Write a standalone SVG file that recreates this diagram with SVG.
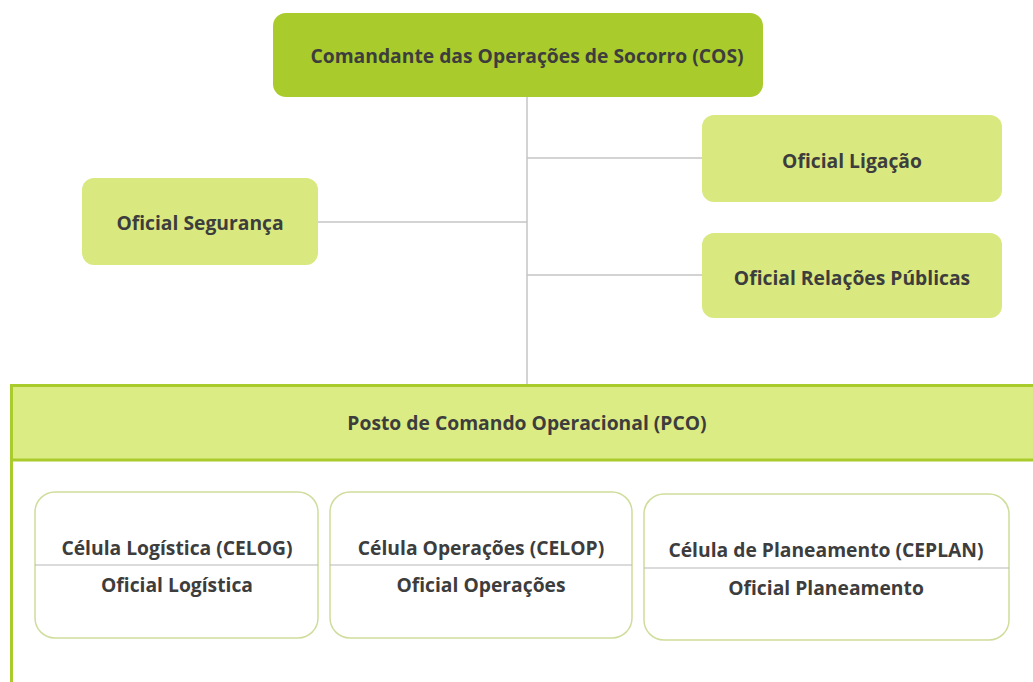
<svg xmlns="http://www.w3.org/2000/svg" width="1033" height="682" viewBox="0 0 1033 682">
<style>
text{font-family:"Open Sans","Liberation Sans",sans-serif;font-weight:bold;fill:#3d3d3d;text-anchor:middle;dominant-baseline:central;font-size:19.3px}
.lite{fill:#d9e97f}
.conn{stroke:#c4c4c4;stroke-width:1.5;fill:none}
.cell{fill:#fff;stroke:#cfdd9c;stroke-width:1.5}
.div{stroke:#b8b8b8;stroke-width:1.2}
</style>
<rect width="1033" height="682" fill="#fff"/>
<g id="connectors">
<line class="conn" x1="527" y1="97" x2="527" y2="385"/>
<line class="conn" x1="318" y1="222" x2="527" y2="222"/>
<line class="conn" x1="527" y1="158" x2="702" y2="158"/>
<line class="conn" x1="527" y1="275" x2="702" y2="275"/>
</g>
<g id="cos">
<rect x="273" y="13" width="490" height="84" rx="13" fill="#a9cb2c"/>
<text x="527" y="55">Comandante das Operações de Socorro (COS)</text>
</g>
<g id="seguranca">
<rect class="lite" x="82" y="178" width="236" height="87" rx="12"/>
<text x="200" y="222">Oficial Segurança</text>
</g>
<g id="ligacao">
<rect class="lite" x="702" y="115" width="300" height="87" rx="12"/>
<text x="852" y="160">Oficial Ligação</text>
</g>
<g id="relacoes">
<rect class="lite" x="702" y="233" width="300" height="85" rx="12"/>
<text x="852" y="277">Oficial Relações Públicas</text>
</g>
<g id="pco">
<rect x="11.5" y="385.5" width="1030" height="310" fill="#fff" stroke="#a9cb2c" stroke-width="3"/>
<rect x="13" y="387" width="1020" height="72" fill="#dcec84"/>
<line x1="13" y1="460" x2="1033" y2="460" stroke="#a9cb2c" stroke-width="3"/>
<text x="527" y="422">Posto de Comando Operacional (PCO)</text>
</g>
<g id="celog">
<rect class="cell" x="35" y="492" width="283" height="146" rx="20"/>
<line class="div" x1="35" y1="565" x2="318" y2="565"/>
<text x="177" y="547">Célula Logística (CELOG)</text>
<text x="177" y="584">Oficial Logística</text>
</g>
<g id="celop">
<rect class="cell" x="330" y="492" width="302" height="146" rx="20"/>
<line class="div" x1="330" y1="565" x2="632" y2="565"/>
<text x="481" y="547">Célula Operações (CELOP)</text>
<text x="481" y="584">Oficial Operações</text>
</g>
<g id="ceplan">
<rect class="cell" x="644" y="494" width="365" height="146" rx="20"/>
<line class="div" x1="644" y1="568" x2="1009" y2="568"/>
<text x="826" y="549">Célula de Planeamento (CEPLAN)</text>
<text x="826" y="587">Oficial Planeamento</text>
</g>
</svg>
